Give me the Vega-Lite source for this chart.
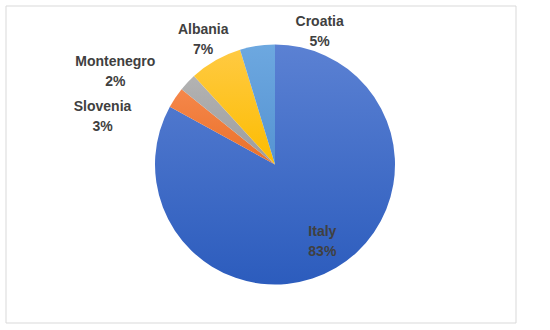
{
  "$schema": "https://vega.github.io/schema/vega-lite/v6.json",
  "width": 550,
  "height": 330,
  "autosize": {"type": "fit", "contains": "padding"},
  "padding": {"left": 5, "top": 5, "right": 33, "bottom": 6},
  "background": "white",
  "config": {"view": {"stroke": null}},
  "data": {
    "values": [
      {"country": "Italy", "value": 83.0, "label": ["Italy", "83%"]},
      {"country": "Slovenia", "value": 2.8, "label": ["Slovenia", "3%"]},
      {"country": "Montenegro", "value": 2.4, "label": ["Montenegro", "2%"]},
      {"country": "Albania", "value": 7.1, "label": ["Albania", "7%"]},
      {"country": "Croatia", "value": 4.7, "label": ["Croatia", "5%"]}
    ]
  },
  "transform": [{"stack": "value", "groupby": [], "as": ["v0", "v1"]}],
  "layer": [
    {
      "transform": [{"filter": "datum.country == 'Italy'"}],
      "mark": {"type": "rect", "fill": "white", "stroke": "#D9D9D9", "strokeWidth": 1},
      "encoding": {}
    },
    {
      "transform": [{"filter": "datum.country == 'Italy'"}],
      "mark": {"type": "arc", "radius": 120, "xOffset": 14, "fill": {"gradient": "linear", "x1": 0, "y1": 0, "x2": 0, "y2": 1, "stops": [{"offset": 0, "color": "#5B81D3"}, {"offset": 1, "color": "#2C5CBD"}]}},
      "encoding": {"theta": {"field": "v0", "type": "quantitative", "scale": {"domain": [0, 100]}}, "theta2": {"field": "v1"}}
    },
    {
      "transform": [{"filter": "datum.country == 'Slovenia'"}],
      "mark": {"type": "arc", "radius": 120, "xOffset": 14, "fill": {"gradient": "linear", "x1": 0, "y1": 0, "x2": 0, "y2": 1, "stops": [{"offset": 0, "color": "#F5874B"}, {"offset": 1, "color": "#EA7028"}]}},
      "encoding": {"theta": {"field": "v0", "type": "quantitative"}, "theta2": {"field": "v1"}}
    },
    {
      "transform": [{"filter": "datum.country == 'Montenegro'"}],
      "mark": {"type": "arc", "radius": 120, "xOffset": 14, "fill": {"gradient": "linear", "x1": 0, "y1": 0, "x2": 0, "y2": 1, "stops": [{"offset": 0, "color": "#B3B3B3"}, {"offset": 1, "color": "#9C9C9C"}]}},
      "encoding": {"theta": {"field": "v0", "type": "quantitative"}, "theta2": {"field": "v1"}}
    },
    {
      "transform": [{"filter": "datum.country == 'Albania'"}],
      "mark": {"type": "arc", "radius": 120, "xOffset": 14, "fill": {"gradient": "linear", "x1": 0, "y1": 0, "x2": 0, "y2": 1, "stops": [{"offset": 0, "color": "#FFCA42"}, {"offset": 1, "color": "#FCBC00"}]}},
      "encoding": {"theta": {"field": "v0", "type": "quantitative"}, "theta2": {"field": "v1"}}
    },
    {
      "transform": [{"filter": "datum.country == 'Croatia'"}],
      "mark": {"type": "arc", "radius": 120, "xOffset": 14, "fill": {"gradient": "linear", "x1": 0, "y1": 0, "x2": 0, "y2": 1, "stops": [{"offset": 0, "color": "#6DA8E0"}, {"offset": 1, "color": "#5593D2"}]}},
      "encoding": {"theta": {"field": "v0", "type": "quantitative"}, "theta2": {"field": "v1"}}
    },
    {
      "mark": {
        "type": "text",
        "xOffset": 14,
        "font": "Liberation Sans",
        "fontWeight": "bold",
        "fontSize": 14,
        "lineHeight": 20,
        "color": "#404040",
        "align": "center",
        "baseline": "middle",
        "theta": {"expr": "PI * (datum.v0 + datum.v1) / 100"},
        "radius": {"expr": "datum.country == 'Italy' ? 93 : 145"},
        "dx": {"expr": "datum.country == 'Slovenia' ? -52 : datum.country == 'Montenegro' ? -54 : datum.country == 'Croatia' ? 66 : 0"},
        "dy": {"expr": "datum.country == 'Italy' ? -13 : datum.country == 'Slovenia' ? 23 : datum.country == 'Montenegro' ? -3 : datum.country == 'Albania' ? -9 : datum.country == 'Croatia' ? 1 : -10"}
      },
      "encoding": {
        "text": {"field": "label"}
      }
    }
  ]
}
